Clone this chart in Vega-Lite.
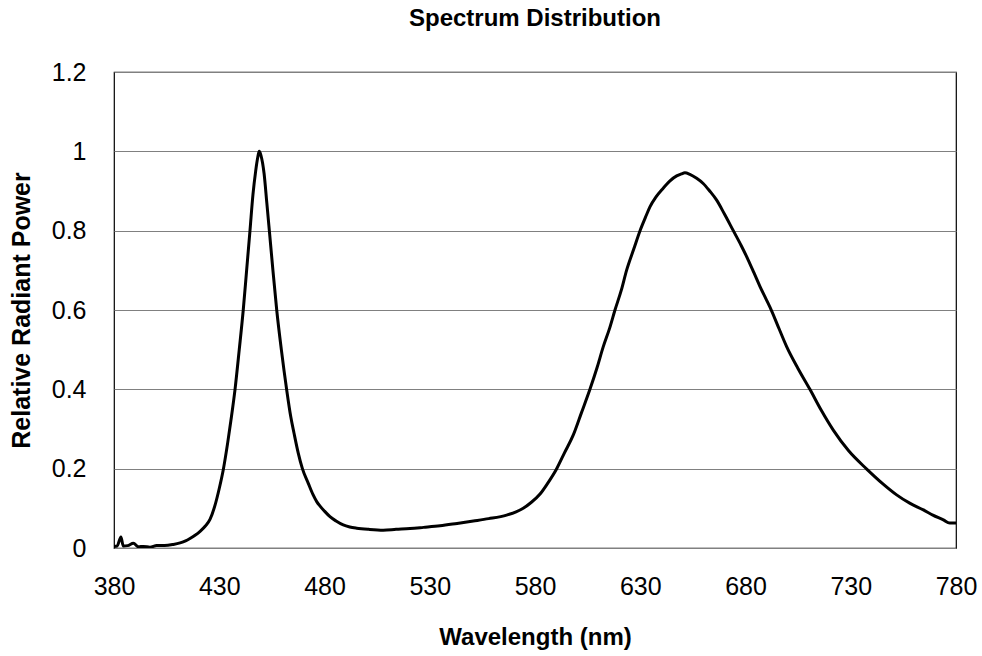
{
  "$schema": "https://vega.github.io/schema/vega-lite/v6.json",
  "autosize": "none",
  "padding": {"left": 114, "top": 72, "right": 26, "bottom": 108},
  "width": 842,
  "height": 476,
  "background": "white",
  "config": {
    "font": "Liberation Sans",
    "view": {"stroke": "black", "strokeWidth": 1.2}
  },
  "title": {
    "text": "Spectrum Distribution",
    "fontSize": 24,
    "fontWeight": "bold",
    "font": "Liberation Sans",
    "color": "black",
    "anchor": "middle",
    "offset": 29
  },
  "data": {
    "values": [
      {"wl": 380, "p": 0.004}, {"wl": 381.5, "p": 0.005}, {"wl": 383.3, "p": 0.028}, {"wl": 384.4, "p": 0.005},
      {"wl": 386.5, "p": 0.006}, {"wl": 389.2, "p": 0.012}, {"wl": 391.6, "p": 0.003}, {"wl": 394, "p": 0.004},
      {"wl": 397.1, "p": 0.002}, {"wl": 400.3, "p": 0.006}, {"wl": 404, "p": 0.006}, {"wl": 408.2, "p": 0.009},
      {"wl": 411.4, "p": 0.013}, {"wl": 414, "p": 0.018}, {"wl": 416.1, "p": 0.024}, {"wl": 418.5, "p": 0.032},
      {"wl": 420.9, "p": 0.042}, {"wl": 423.5, "p": 0.056}, {"wl": 425.6, "p": 0.072}, {"wl": 428, "p": 0.108},
      {"wl": 430, "p": 0.15}, {"wl": 432, "p": 0.2}, {"wl": 434, "p": 0.265}, {"wl": 435.5, "p": 0.32},
      {"wl": 437.5, "p": 0.4}, {"wl": 439.5, "p": 0.5}, {"wl": 441.4, "p": 0.6}, {"wl": 443, "p": 0.7},
      {"wl": 444.6, "p": 0.8}, {"wl": 446, "p": 0.89}, {"wl": 447.3, "p": 0.95}, {"wl": 448.3, "p": 0.985},
      {"wl": 449, "p": 1.0}, {"wl": 449.8, "p": 0.99}, {"wl": 451.3, "p": 0.944}, {"wl": 452.6, "p": 0.87},
      {"wl": 453.8, "p": 0.8}, {"wl": 455.5, "p": 0.7}, {"wl": 457.3, "p": 0.6}, {"wl": 459.5, "p": 0.5},
      {"wl": 462, "p": 0.4}, {"wl": 464, "p": 0.33}, {"wl": 465.5, "p": 0.29}, {"wl": 467.5, "p": 0.24},
      {"wl": 469.5, "p": 0.2}, {"wl": 472.3, "p": 0.163}, {"wl": 474.5, "p": 0.135}, {"wl": 476.3, "p": 0.117},
      {"wl": 478, "p": 0.105}, {"wl": 480, "p": 0.093}, {"wl": 482.6, "p": 0.079}, {"wl": 485.5, "p": 0.068},
      {"wl": 488.9, "p": 0.058}, {"wl": 492, "p": 0.053}, {"wl": 495.3, "p": 0.05}, {"wl": 501, "p": 0.047},
      {"wl": 507.9, "p": 0.045}, {"wl": 514, "p": 0.047}, {"wl": 520.6, "p": 0.049}, {"wl": 527, "p": 0.052},
      {"wl": 534.9, "p": 0.056}, {"wl": 543, "p": 0.062}, {"wl": 550.7, "p": 0.068}, {"wl": 558, "p": 0.074},
      {"wl": 566.5, "p": 0.083}, {"wl": 571, "p": 0.091}, {"wl": 574.4, "p": 0.1}, {"wl": 578, "p": 0.114},
      {"wl": 582.4, "p": 0.136}, {"wl": 586, "p": 0.163}, {"wl": 590.3, "p": 0.2}, {"wl": 594, "p": 0.24},
      {"wl": 598.2, "p": 0.285}, {"wl": 602, "p": 0.34}, {"wl": 606.1, "p": 0.4}, {"wl": 609.5, "p": 0.455},
      {"wl": 612.4, "p": 0.507}, {"wl": 615.5, "p": 0.555}, {"wl": 618, "p": 0.6}, {"wl": 621, "p": 0.65},
      {"wl": 623.5, "p": 0.7}, {"wl": 627, "p": 0.755}, {"wl": 629.9, "p": 0.8}, {"wl": 632.5, "p": 0.834},
      {"wl": 634.6, "p": 0.86}, {"wl": 637.5, "p": 0.885}, {"wl": 640.9, "p": 0.907}, {"wl": 644, "p": 0.925},
      {"wl": 647.3, "p": 0.938}, {"wl": 649.5, "p": 0.943}, {"wl": 651.2, "p": 0.946}, {"wl": 653.6, "p": 0.942},
      {"wl": 656.8, "p": 0.932}, {"wl": 659.9, "p": 0.919}, {"wl": 663, "p": 0.9}, {"wl": 666.3, "p": 0.877},
      {"wl": 670, "p": 0.842}, {"wl": 674.2, "p": 0.8}, {"wl": 678, "p": 0.762}, {"wl": 681.3, "p": 0.726},
      {"wl": 684, "p": 0.694}, {"wl": 686.9, "p": 0.659}, {"wl": 690, "p": 0.625}, {"wl": 692.4, "p": 0.598},
      {"wl": 696, "p": 0.552}, {"wl": 699.6, "p": 0.507}, {"wl": 705, "p": 0.452}, {"wl": 710.6, "p": 0.4},
      {"wl": 716, "p": 0.347}, {"wl": 721.7, "p": 0.297}, {"wl": 729, "p": 0.245}, {"wl": 737.6, "p": 0.199},
      {"wl": 745, "p": 0.163}, {"wl": 751.8, "p": 0.134}, {"wl": 758, "p": 0.113}, {"wl": 764.5, "p": 0.096},
      {"wl": 769, "p": 0.083}, {"wl": 774, "p": 0.071}, {"wl": 777, "p": 0.063}, {"wl": 780, "p": 0.063}
    ]
  },
  "mark": {"type": "line", "color": "black", "strokeWidth": 3, "interpolate": "monotone", "clip": true},
  "encoding": {
    "x": {
      "field": "wl",
      "type": "quantitative",
      "scale": {"domain": [380, 780], "nice": false, "zero": false},
      "axis": {
        "title": "Wavelength (nm)",
        "values": [380, 430, 480, 530, 580, 630, 680, 730, 780],
        "grid": false,
        "domain": false,
        "ticks": false,
        "labelFontSize": 25,
        "labelColor": "black",
        "labelPadding": 26,
        "labelFlush": false,
        "titleFontSize": 24,
        "titleFontWeight": "bold",
        "titleColor": "black",
        "titlePadding": 26
      }
    },
    "y": {
      "field": "p",
      "type": "quantitative",
      "scale": {"domain": [0, 1.2], "nice": false},
      "axis": {
        "title": "Relative Radiant Power",
        "values": [0, 0.2, 0.4, 0.6, 0.8, 1, 1.2],
        "format": "~g",
        "grid": true,
        "gridColor": "#808080",
        "gridWidth": 1,
        "gridOpacity": 1,
        "domain": false,
        "ticks": false,
        "labelFontSize": 25,
        "labelColor": "black",
        "labelPadding": 28,
        "labelFlush": false,
        "titleFontSize": 25,
        "titleFontWeight": "bold",
        "titleColor": "black",
        "titlePadding": 17
      }
    }
  }
}
